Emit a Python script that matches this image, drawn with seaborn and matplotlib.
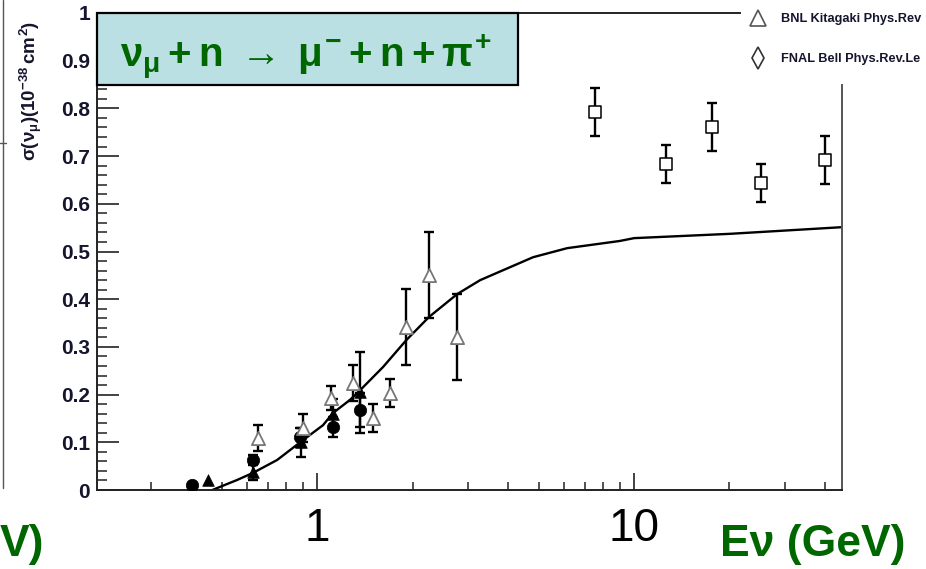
import numpy as np
import pandas as pd
import matplotlib
matplotlib.use("Agg")
import matplotlib.pyplot as plt
import seaborn as sns
from matplotlib.ticker import MultipleLocator, FixedLocator, FuncFormatter, NullFormatter
from matplotlib.patches import Rectangle
from matplotlib.lines import Line2D

# ---------------- data ----------------
theory_e = [0.467, 0.559, 0.628, 0.748, 0.884, 1.044, 1.12, 1.27, 1.37, 1.615,
            1.91, 2.256, 2.77, 3.27, 4.8, 6.15, 9.0, 10.0, 20.0, 45.3]
theory_xs = [0.0, 0.021, 0.036, 0.063, 0.100, 0.136, 0.161, 0.189, 0.210, 0.258,
             0.314, 0.363, 0.411, 0.440, 0.488, 0.507, 0.522, 0.528, 0.537, 0.551]

bnl_e = [0.651, 0.903, 1.107, 1.299, 1.502, 1.70, 1.91, 2.256, 2.765]
bnl_xs = [0.109, 0.130, 0.193, 0.224, 0.151, 0.203, 0.342, 0.451, 0.321]
bnl_err = [0.028, 0.030, 0.025, 0.038, 0.030, 0.030, 0.080, 0.090, 0.090]

circ_e = [0.403, 0.628, 0.884, 1.123, 1.37]
circ_xs = [0.010, 0.063, 0.111, 0.132, 0.168]
circ_err = [0.0, 0.010, 0.020, 0.020, 0.036]

ftri_e = [0.453, 0.628, 0.89, 1.12, 1.37]
ftri_xs = [0.021, 0.038, 0.100, 0.160, 0.205]
ftri_err = [0.0, 0.018, 0.030, 0.030, 0.085]

fnal_e = [7.53, 12.6, 17.6, 25.2, 40.0]
fnal_xs = [0.792, 0.683, 0.761, 0.643, 0.692]
fnal_err = [0.050, 0.040, 0.050, 0.040, 0.050]

y_ticks = [0, 0.1, 0.2, 0.3, 0.4, 0.5, 0.6, 0.7, 0.8, 0.9, 1.0]
x_ticks = [1, 10]
x_tick_labels = ["1", "10"]
legend_labels = ["BNL Kitagaki Phys.Rev", "FNAL Bell Phys.Rev.Le"]

GREEN = "#006600"
TXT = "#15152e"

# ---------------- style ----------------
sns.set_style("ticks")
plt.rcParams["font.family"] = ["Liberation Sans", "DejaVu Sans"]
plt.rcParams["mathtext.fontset"] = "custom"
plt.rcParams["mathtext.rm"] = "Liberation Sans:bold"
plt.rcParams["mathtext.it"] = "Liberation Sans:bold"
plt.rcParams["mathtext.bf"] = "Liberation Sans:bold"
plt.rcParams["mathtext.sf"] = "Liberation Sans:bold"

fig = plt.figure(figsize=(9.26, 5.69), dpi=100)
ax = fig.add_axes([97 / 926, 1 - 490 / 569, 745 / 926, 477 / 569])
ax.set_xscale("log")

# theory curve
sns.lineplot(x=theory_e, y=theory_xs, ax=ax, color="black", linewidth=1.7,
             sort=False, estimator=None, zorder=2)

def ebars(e, v, err):
    d = pd.DataFrame({"e": e, "v": v, "err": err})
    d = d[d.err > 0]
    ax.errorbar(d.e, d.v, yerr=d.err, fmt="none", ecolor="black",
                elinewidth=1.7, capsize=3.6, capthick=1.7, zorder=3)

ebars(bnl_e, bnl_xs, bnl_err)
ebars(circ_e, circ_xs, circ_err)
ebars(ftri_e, ftri_xs, ftri_err)
ebars(fnal_e, fnal_xs, fnal_err)

sns.scatterplot(x=circ_e, y=circ_xs, ax=ax, marker="o", s=80, color="black",
                edgecolor="black", linewidth=0.5, zorder=4)
sns.scatterplot(x=ftri_e, y=ftri_xs, ax=ax, marker="^", s=70, color="black",
                edgecolor="black", linewidth=0.5, zorder=4)
sns.scatterplot(x=bnl_e, y=bnl_xs, ax=ax, marker="^", s=90, facecolor="white",
                edgecolor="#777777", linewidth=1.3, zorder=5)
sns.scatterplot(x=fnal_e, y=fnal_xs, ax=ax, marker="s", s=80, facecolor="white",
                edgecolor="black", linewidth=1.1, zorder=5)

# axes limits / ticks
ax.set_xlim(0.202, 45.3)
ax.set_ylim(0, 1.0)
ax.xaxis.set_major_locator(FixedLocator(x_ticks))
ax.xaxis.set_major_formatter(FuncFormatter(lambda v, p: x_tick_labels[x_ticks.index(v)] if v in x_ticks else ""))
minor_x = [m * 10.0 ** k for k in (-1, 0, 1) for m in range(2, 10)]
ax.xaxis.set_minor_locator(FixedLocator(minor_x))
ax.xaxis.set_minor_formatter(NullFormatter())
ax.yaxis.set_major_locator(FixedLocator(y_ticks))
ax.yaxis.set_major_formatter(FuncFormatter(lambda v, p: f"{v:g}"))
ax.yaxis.set_minor_locator(MultipleLocator(0.02))

ax.tick_params(axis="both", which="both", direction="in", top=False, right=False,
               color="#222222")
ax.tick_params(axis="y", which="major", length=16, width=1.2, pad=5,
               labelsize=15, labelcolor=TXT)
ax.tick_params(axis="y", which="minor", length=7, width=1.1)
ax.tick_params(axis="x", which="major", length=12, width=1.2, pad=12,
               labelsize=33, labelcolor="black")
ax.tick_params(axis="x", which="minor", length=5.5, width=1.1)
for lab in ax.get_yticklabels():
    lab.set_fontweight("bold")
for lab in ax.get_xticklabels():
    lab.set_fontweight("normal")

for s in ["left", "bottom", "top", "right"]:
    ax.spines[s].set_visible(True)
    ax.spines[s].set_linewidth(1.4)
    ax.spines[s].set_color("#222222")
ax.spines["right"].set_color("#555555")
ax.spines["top"].set_bounds(0.202, 21.6)
ax.spines["right"].set_bounds(0, 0.849)
ax.set_xlabel("")
ax.set_ylabel("")

# y-axis label
fig.text(31 / 926, 1 - 91 / 569, r"$\sigma(\nu_{\mu})(10^{-38}\,cm^{2})$",
         rotation=90, ha="center", va="center", fontsize=13.5, color=TXT)

# reaction box
fig.add_artist(Rectangle((97 / 926, 1 - 85 / 569), 421 / 926, 72 / 569,
                         transform=fig.transFigure, facecolor="#BAE0E3",
                         edgecolor="black", linewidth=1.6, zorder=5))
fig.text(120 / 926, 1 - 67 / 569,
         r"$\nu_{\mu}+n\;\rightarrow\;\mu^{-}+n+\pi^{+}$",
         ha="left", va="baseline", fontsize=29, color=GREEN, zorder=6)

# axis title (green)
fig.text(720 / 926, 1 - 556 / 569, "Eν (GeV)", ha="left", va="baseline",
         fontsize=32, fontweight="bold", color=GREEN)
fig.text(0.0, 1 - 556 / 569, "V)", ha="left", va="baseline",
         fontsize=32, fontweight="bold", color=GREEN)

# remnant of neighbouring frame on the left edge
fig.add_artist(Line2D([3 / 926, 3 / 926], [1, 1 - 488 / 569], color="#555555",
                      linewidth=1.0, transform=fig.transFigure))
fig.add_artist(Line2D([0, 6 / 926], [1 - 143 / 569, 1 - 143 / 569], color="#555555",
                      linewidth=1.0, transform=fig.transFigure))

# legend
handles = [Line2D([], [], marker="^", ls="none", mfc="white", mec="#555555",
                  ms=11, mew=1.2),
           Line2D([], [], marker="d", ls="none", mfc="white", mec="#333333",
                  ms=11, mew=1.2)]
fig.legend(handles, legend_labels, loc="upper left",
           bbox_to_anchor=(750 / 926, 1 - 13 / 569), frameon=False,
           prop={"weight": "bold", "size": 9.2}, labelcolor=TXT,
           labelspacing=2.2, handlelength=1.2, handletextpad=1.2,
           borderaxespad=0, borderpad=0)

fig.savefig("out.png", dpi=100)
